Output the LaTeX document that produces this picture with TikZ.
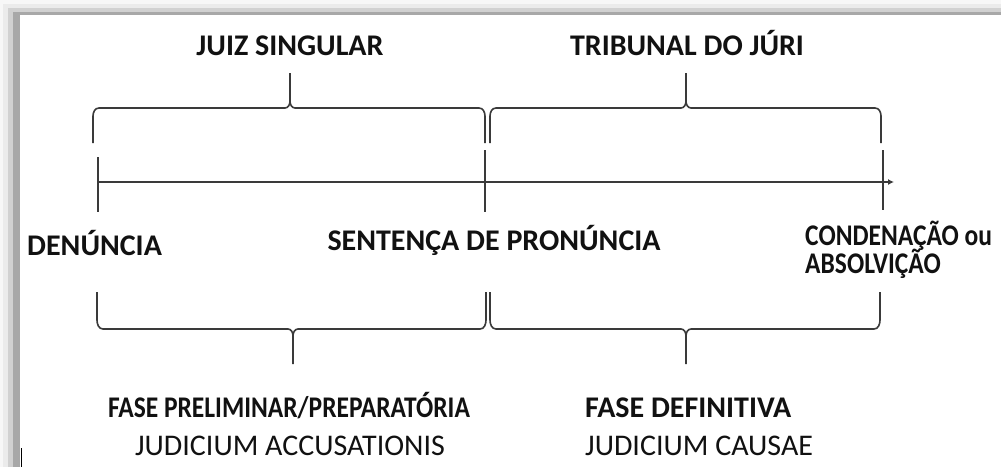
\documentclass[tikz,border=0pt]{standalone}
\usepackage{fontspec}
\setmainfont{Carlito}
\usetikzlibrary{arrows.meta}
\definecolor{traco}{HTML}{3A3A3A}
\definecolor{texto}{HTML}{111111}
% chave de cima: ponta esquerda, meio, ponta direita
\newcommand{\chavecima}[3]{%
  \draw[chave] (#1,143) -- (#1,116) to[out=90,in=180] (#1+6,108) -- (#2-5,108)
    to[out=0,in=-90] (#2,101) -- (#2,73);
  \draw[chave] (#2,101) to[out=-90,in=180] (#2+5,108) -- (#3-6,108)
    to[out=0,in=90] (#3,116) -- (#3,143);}
% chave de baixo
\newcommand{\chavebaixo}[3]{%
  \draw[chave] (#1,292) -- (#1,320) to[out=-90,in=180] (#1+6,329) -- (#2-5,329)
    to[out=0,in=90] (#2,336) -- (#2,364);
  \draw[chave] (#2,336) to[out=90,in=180] (#2+5,329) -- (#3-6,329)
    to[out=0,in=-90] (#3,320) -- (#3,292);}
\begin{document}
\begin{tikzpicture}[x=1pt,y=-1pt,
    eixo/.style={draw=traco,line width=1.6pt},
    chave/.style={draw=traco,line width=1.6pt},
    rotulo/.style={inner sep=0pt,text=texto,font=\bfseries\fontsize{30}{36}\selectfont},
    menor/.style={inner sep=0pt,text=texto,font=\bfseries\fontsize{30}{36}\selectfont\addfontfeature{FakeStretch=0.85}},
    latim/.style={inner sep=0pt,text=texto,font=\fontsize{30}{36}\selectfont}]
    \useasboundingbox (0,0) rectangle (1001,467);
    % moldura
    \fill[white!97!black] (0,0) rectangle (1001,467);
    \fill[white!92!black] (3,4) rectangle (1001,467);
    \fill[white!82!black] (8,8) rectangle (1001,467);
    \fill[white!66!black] (13,12) rectangle (1001,467);
    \fill[white] (20,15) rectangle (1001,467);
    \draw[black,line width=1.2pt] (21.5,448) -- (21.5,467);

    \coordinate (den) at (98,182);
    \coordinate (pron) at (485,182);
    \coordinate (cond) at (883,182);
    \coordinate (seta) at (894,182);

    \draw[eixo,-{Latex[length=6pt,width=6pt]}] (den) -- (seta);
    \draw[eixo] (98,157) -- (98,212);
    \draw[eixo] (485,150) -- (485,212);
    \draw[eixo] (883,150) -- (883,210);

    \chavecima{93}{290}{485}
    \chavecima{490}{686}{881}
    \chavebaixo{97}{293}{486}
    \chavebaixo{490}{686}{880}

    \node[rotulo,anchor=base] (juiz) at (290,55) {JUIZ SINGULAR};
    \node[rotulo,anchor=base] (juri) at (687,55) {TRIBUNAL DO JÚRI};
    \node[rotulo,anchor=base west] (denuncia) at (27,255) {DENÚNCIA};
    \node[rotulo,anchor=base] (sentenca) at (494,250) {SENTENÇA DE PRONÚNCIA};
    \node[menor,anchor=base west] (condenacao) at (805,245) {CONDENAÇÃO ou};
    \node[menor,anchor=base west] (absolvicao) at (805,273) {ABSOLVIÇÃO};
    \node[menor,anchor=base] (preliminar) at (289,417) {FASE PRELIMINAR/PREPARATÓRIA};
    \node[latim,anchor=base] (accusationis) at (290,455) {JUDICIUM ACCUSATIONIS};
    \node[rotulo,anchor=base west] (definitiva) at (585,417) {FASE DEFINITIVA};
    \node[latim,anchor=base west] (causae) at (585,455) {JUDICIUM CAUSAE};
\end{tikzpicture}
\end{document}
